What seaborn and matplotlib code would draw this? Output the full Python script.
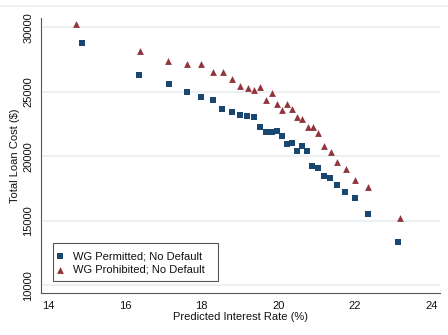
import matplotlib
matplotlib.use("Agg")
import matplotlib.pyplot as plt
import matplotlib.patches as mpatches
from matplotlib.lines import Line2D
import seaborn as sns
import pandas as pd

# ---- data ----
rate_permitted = [14.88, 16.37, 17.14, 17.61, 17.97, 18.29, 18.54, 18.78, 18.99, 19.18,
                  19.36, 19.52, 19.68, 19.82, 19.96, 20.10, 20.22, 20.35, 20.48, 20.62,
                  20.75, 20.88, 21.04, 21.20, 21.35, 21.54, 21.74, 22.00, 22.33, 23.13]
cost_permitted = [28800, 26300, 25600, 25000, 24620, 24340, 23670, 23400, 23220, 23150,
                  23010, 22310, 21920, 21880, 22000, 21600, 20990, 21020, 20410, 20820,
                  20410, 19250, 19130, 18510, 18300, 17750, 17220, 16790, 15550, 13330]
rate_prohibited = [14.71, 16.39, 17.13, 17.62, 17.98, 18.29, 18.56, 18.78, 18.99, 19.20,
                   19.37, 19.53, 19.68, 19.82, 19.96, 20.09, 20.22, 20.35, 20.49, 20.62,
                   20.76, 20.89, 21.04, 21.20, 21.36, 21.54, 21.75, 22.00, 22.34, 23.18]
cost_prohibited = [30230, 28190, 27390, 27130, 27180, 26540, 26510, 25970, 25430, 25330,
                   25160, 25410, 24350, 24930, 24090, 23570, 24050, 23630, 23060, 22890,
                   22310, 22260, 21810, 20800, 20310, 19540, 19030, 18160, 17640, 15190]
label_permitted = "WG Permitted; No Default"
label_prohibited = "WG Prohibited; No Default"
x_ticks = [14, 16, 18, 20, 22, 24]
y_ticks = [10000, 15000, 20000, 25000, 30000]
x_label = "Predicted Interest Rate (%)"
y_label = "Total Loan Cost ($)"

df_perm = pd.DataFrame({"rate": rate_permitted, "cost": cost_permitted})
df_proh = pd.DataFrame({"rate": rate_prohibited, "cost": cost_prohibited})

sns.set_theme(style="white")
plt.rcParams['font.family'] = ['Liberation Sans', 'DejaVu Sans']
plt.rcParams['font.size'] = 8

W, H = 448, 335
fig = plt.figure(figsize=(W / 100, H / 100), dpi=100)
ax_l, ax_r, ax_t, ax_b = 40.5, 439.5, 18.0, 293.0
ax = fig.add_axes([ax_l / W, (H - ax_b) / H, (ax_r - ax_l) / W, (ax_b - ax_t) / H])

navy = "#1a476f"
maroon = "#90353b"

sns.scatterplot(data=df_perm, x="rate", y="cost", marker="s", color=navy, s=20,
                linewidth=0, ax=ax, label=label_permitted, zorder=3)
sns.scatterplot(data=df_proh, x="rate", y="cost", marker="^", color=maroon, s=24,
                linewidth=0, ax=ax, label=label_prohibited, zorder=3)

ax.set_xlim(13.797, 24.2)
ax.set_ylim(9403, 30721)
ax.set_xticks(x_ticks)
ax.set_yticks(y_ticks)
ax.set_xticklabels([str(t) for t in x_ticks], fontsize=8)
ax.set_yticklabels([str(t) for t in y_ticks], fontsize=8, rotation=90, va="center")

grid_col = "#e9f0f2"
ax.yaxis.grid(True, color=grid_col, linewidth=1.3, zorder=0)
ax.xaxis.grid(False)
ax.set_axisbelow(True)
for s in ["top", "right"]:
    ax.spines[s].set_visible(False)
for s in ["left", "bottom"]:
    ax.spines[s].set_color("#555555")
    ax.spines[s].set_linewidth(0.8)
ax.tick_params(axis="both", direction="out", length=3.3, width=0.8, color="#555555",
               labelcolor="#111111")
ax.tick_params(axis="x", pad=2.5)
ax.tick_params(axis="y", pad=2.0)

ax.set_xlabel(x_label, fontsize=8, color="#111111", va="center")
ax.xaxis.set_label_coords(0.5015, (ax_b - 317) / (ax_b - ax_t))
ax.set_ylabel(y_label, fontsize=8, color="#111111", va="center")
ax.yaxis.set_label_coords((15 - ax_l) / (ax_r - ax_l), 0.5)

# legend
leg = ax.legend(loc="center left", bbox_to_anchor=(51.2 / W, (H - 262.8) / H),
                bbox_transform=fig.transFigure, frameon=False, borderpad=0,
                handlelength=0.6, handletextpad=0.85, labelspacing=0.3,
                fontsize=8, scatterpoints=1)
for t in leg.get_texts():
    t.set_color("#111111")
box = mpatches.Rectangle((52.7 / W, (H - 280.7) / H), 165.6 / W, 37.4 / H,
                         transform=fig.transFigure, fill=False, edgecolor="#555555",
                         linewidth=0.8, zorder=5)
fig.add_artist(box)

# faint graph-region top border
fig.add_artist(Line2D([0, 1], [1 - 6 / H, 1 - 6 / H], color=grid_col, linewidth=1.3,
                      transform=fig.transFigure))

fig.savefig("out.png", dpi=100, facecolor="white")
